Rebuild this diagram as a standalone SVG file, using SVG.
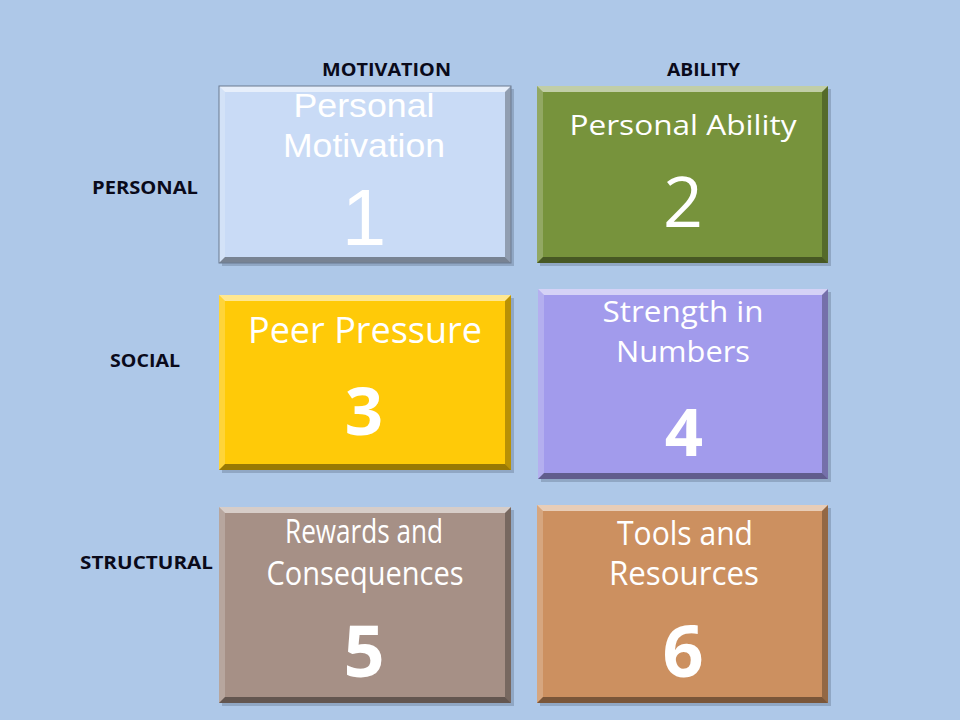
<svg xmlns="http://www.w3.org/2000/svg" width="960" height="720" viewBox="0 0 960 720">
<defs>
<style>
.lbl{font-family:"Open Sans","Liberation Sans",sans-serif;font-weight:bold;font-size:17px;fill:#0a0a1a}
.t{font-family:"Open Sans","Liberation Sans",sans-serif;fill:#ffffff;text-anchor:middle}
.a{font-family:"Liberation Sans",Arial,sans-serif;fill:#ffffff;text-anchor:middle}
.bt{fill:#ffffff;opacity:0.55}
.bl{fill:#ffffff;opacity:0.2}
.br{fill:#000000;opacity:0.28}
.bb{fill:#000000;opacity:0.4}
.sh{fill:#5a6a80;opacity:0.35}
</style>
</defs>
<rect x="0" y="0" width="960" height="720" fill="#AEC8E8"/>

<g id="labels">
<text class="lbl" x="322" y="76" textLength="129" lengthAdjust="spacingAndGlyphs">MOTIVATION</text>
<text class="lbl" x="667" y="76" textLength="73" lengthAdjust="spacingAndGlyphs">ABILITY</text>
<text class="lbl" x="92" y="194" textLength="106" lengthAdjust="spacingAndGlyphs">PERSONAL</text>
<text class="lbl" x="110" y="367" textLength="70" lengthAdjust="spacingAndGlyphs">SOCIAL</text>
<text class="lbl" x="80" y="569" textLength="133" lengthAdjust="spacingAndGlyphs">STRUCTURAL</text>
</g>

<g id="node1">
<rect class="sh" x="222" y="89" width="292" height="177"/>
<rect x="219" y="86" width="292" height="177" fill="#C9DBF6"/>
<polygon class="bt" points="219,86 511,86 505,92 225,92"/>
<polygon class="bl" points="219,86 225,92 225,257 219,263"/>
<polygon class="br" points="511,86 511,263 505,257 505,92"/>
<polygon class="bb" points="219,263 225,257 505,257 511,263"/>
<rect x="219" y="86" width="292" height="177" fill="none" stroke="#6b7a90" stroke-width="1"/>
<text class="a" x="364" y="117" font-size="33" textLength="141" lengthAdjust="spacingAndGlyphs">Personal</text>
<text class="a" x="364" y="157" font-size="33" textLength="162" lengthAdjust="spacingAndGlyphs">Motivation</text>
<text class="a" x="364" y="245" font-size="80">1</text>
</g>

<g id="node2">
<rect class="sh" x="540" y="89" width="291" height="177"/>
<rect x="537" y="86" width="291" height="177" fill="#77933C"/>
<polygon class="bt" points="537,86 828,86 822,92 543,92"/>
<polygon class="bl" points="537,86 543,92 543,257 537,263"/>
<polygon class="br" points="828,86 828,263 822,257 822,92"/>
<polygon class="bb" points="537,263 543,257 822,257 828,263"/>
<text class="t" x="683" y="135" font-size="28" textLength="227" lengthAdjust="spacingAndGlyphs">Personal Ability</text>
<text class="t" x="683" y="227" font-size="70">2</text>
</g>

<g id="node3">
<rect class="sh" x="222" y="298" width="292" height="175"/>
<rect x="219" y="295" width="292" height="175" fill="#FFCA08"/>
<polygon class="bt" points="219,295 511,295 505,301 225,301"/>
<polygon class="bl" points="219,295 225,301 225,464 219,470"/>
<polygon class="br" points="511,295 511,470 505,464 505,301"/>
<polygon class="bb" points="219,470 225,464 505,464 511,470"/>
<text class="t" x="365" y="343" font-size="36" textLength="234" lengthAdjust="spacingAndGlyphs">Peer Pressure</text>
<text class="t" x="364" y="435" font-size="67" font-weight="bold">3</text>
</g>

<g id="node4">
<rect class="sh" x="541" y="292" width="290" height="190"/>
<rect x="538" y="289" width="290" height="190" fill="#A29BEC"/>
<polygon class="bt" points="538,289 828,289 822,295 544,295"/>
<polygon class="bl" points="538,289 544,295 544,473 538,479"/>
<polygon class="br" points="828,289 828,479 822,473 822,295"/>
<polygon class="bb" points="538,479 544,473 822,473 828,479"/>
<text class="t" x="683" y="322" font-size="30" textLength="161" lengthAdjust="spacingAndGlyphs">Strength in</text>
<text class="t" x="683" y="362" font-size="30" textLength="134" lengthAdjust="spacingAndGlyphs">Numbers</text>
<text class="t" x="684" y="456" font-size="67" font-weight="bold">4</text>
</g>

<g id="node5">
<rect class="sh" x="222" y="510" width="292" height="196"/>
<rect x="219" y="507" width="292" height="196" fill="#A69086"/>
<polygon class="bt" points="219,507 511,507 505,513 225,513"/>
<polygon class="bl" points="219,507 225,513 225,697 219,703"/>
<polygon class="br" points="511,507 511,703 505,697 505,513"/>
<polygon class="bb" points="219,703 225,697 505,697 511,703"/>
<text class="t" x="364" y="543" font-size="32" textLength="158" lengthAdjust="spacingAndGlyphs">Rewards and</text>
<text class="t" x="365" y="585" font-size="32" textLength="197" lengthAdjust="spacingAndGlyphs">Consequences</text>
<text class="t" x="364" y="677" font-size="72" font-weight="bold">5</text>
</g>

<g id="node6">
<rect class="sh" x="540" y="508" width="291" height="198"/>
<rect x="537" y="505" width="291" height="198" fill="#CC9060"/>
<polygon class="bt" points="537,505 828,505 822,511 543,511"/>
<polygon class="bl" points="537,505 543,511 543,697 537,703"/>
<polygon class="br" points="828,505 828,703 822,697 822,511"/>
<polygon class="bb" points="537,703 543,697 822,697 828,703"/>
<text class="t" x="685" y="545" font-size="32" textLength="136" lengthAdjust="spacingAndGlyphs">Tools and</text>
<text class="t" x="684" y="585" font-size="32" textLength="150" lengthAdjust="spacingAndGlyphs">Resources</text>
<text class="t" x="683" y="677" font-size="72" font-weight="bold">6</text>
</g>

<g id="connectors"></g>
</svg>
